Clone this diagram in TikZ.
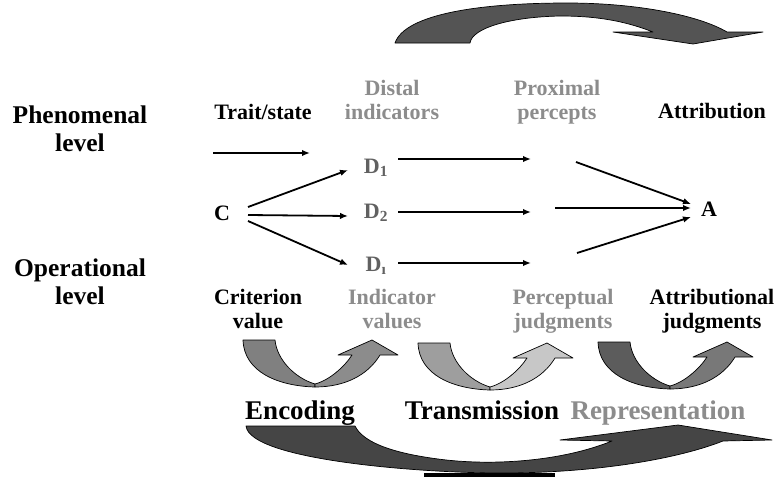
\documentclass[tikz,border=0pt]{standalone}
\usepackage{fontspec}
\setmainfont{Liberation Serif}
\usetikzlibrary{arrows.meta}
\definecolor{txtgray}{gray}{0.55}
\definecolor{dgray}{gray}{0.38}
\definecolor{topfill}{gray}{0.33}
\definecolor{botfill}{gray}{0.27}
\definecolor{encL}{gray}{0.50}
\definecolor{encR}{gray}{0.55}
\definecolor{traL}{gray}{0.62}
\definecolor{traR}{gray}{0.78}
\definecolor{repL}{gray}{0.36}
\definecolor{repR}{gray}{0.47}
\newcommand{\myuarrow}[4]{%
  \begin{scope}[shift={(#1,#2)}]
    \draw[shapeline, fill=#3] (243,340) -- (275,340)
      .. controls (277,360) and (295,378) .. (315,384)
      -- (315,387)
      .. controls (278,386) and (244,372) .. (243,340) -- cycle;
    \draw[shapeline, fill=#4] (315,384)
      .. controls (330,380) and (345,366) .. (352,355)
      -- (338,355) -- (372,340) -- (398,355) -- (380,355)
      .. controls (368,375) and (345,387) .. (315,387) -- cycle;
  \end{scope}}
\begin{document}
\begin{tikzpicture}[x=1pt,y=-1pt,
  lvl/.style={font=\fontsize{25.5}{28}\selectfont\bfseries, align=center, inner sep=0pt, anchor=north},
  lab/.style={font=\fontsize{22}{24}\selectfont\bfseries, align=center, inner sep=0pt, anchor=north},
  glab/.style={lab, text=txtgray},
  proc/.style={font=\fontsize{27}{30}\selectfont\bfseries, inner sep=0pt, anchor=base},
  dnode/.style={font=\fontsize{22}{24}\selectfont\bfseries, text=dgray, inner sep=0pt},
  var/.style={font=\fontsize{22}{24}\selectfont\bfseries, inner sep=0pt},
  conn/.style={line width=1.8pt, -{Latex[length=8pt,width=6.5pt]}},
  shapeline/.style={draw=black, line width=0.7pt, line join=round}]
\useasboundingbox (0,0) rectangle (774,477);
\fill[white] (0,0) rectangle (774,477);

% top curved arrow
\draw[shapeline, fill=topfill] (395,43)
  .. controls (405,14) and (480,3) .. (567,3)
  .. controls (640,3) and (700,16) .. (727,32)
  -- (763,32) -- (693,44) -- (613,32) -- (653,32)
  .. controls (620,19) and (590,16) .. (560,16)
  .. controls (510,17) and (472,28) .. (470,43) -- cycle;

% level labels
\node[lvl] (phen) at (80,106) {Phenomenal\\level};
\node[lvl] (oper) at (80,259) {Operational\\level};

% top labels
\node[lab]  (trait) at (263,104) {Trait/state};
\node[glab] (distal) at (392,80) {Distal\\indicators};
\node[glab] (prox) at (557,80) {Proximal\\percepts};
\node[lab]  (attr) at (712,103) {Attribution};

% bottom labels
\node[lab]  (crit) at (258,289) {Criterion\\value};
\node[glab] (indv) at (392,289) {Indicator\\values};
\node[glab] (perc) at (563,289) {Perceptual\\judgments};
\node[lab]  (attj) at (712,289) {Attributional\\judgments};

% variables
\node[var] (C) at (222,213) {C};
\node[dnode] (D1) at (376,168) {D\textsubscript{1}};
\node[dnode] (D2) at (376,213) {D\textsubscript{2}};
\node[dnode] (Di) at (376,266) {D\textsubscript{ı}};
\node[var] (A) at (709,209) {A};

% coordinates for arrow ends
\coordinate (t0) at (213,153); \coordinate (t1) at (310,153);
\coordinate (c1) at (248,207); \coordinate (c2) at (248,215); \coordinate (c3) at (248,221);
\coordinate (d1e) at (348,170); \coordinate (d2e) at (348,216); \coordinate (die) at (348,265);
\coordinate (p1s) at (398,159); \coordinate (p1e) at (531,159);
\coordinate (p2s) at (398,212); \coordinate (p2e) at (531,212);
\coordinate (p3s) at (398,263); \coordinate (p3e) at (531,263);
\coordinate (a1s) at (576,162); \coordinate (a1e) at (691,204);
\coordinate (a2s) at (555,208); \coordinate (a2e) at (691,208);
\coordinate (a3s) at (577,253); \coordinate (a3e) at (691,217);

\draw[conn] (t0) -- (t1);
\draw[conn] (c1) -- (d1e);
\draw[conn] (c2) -- (d2e);
\draw[conn] (c3) -- (die);
\draw[conn] (p1s) -- (p1e);
\draw[conn] (p2s) -- (p2e);
\draw[conn] (p3s) -- (p3e);
\draw[conn] (a1s) -- (a1e);
\draw[conn] (a2s) -- (a2e);
\draw[conn] (a3s) -- (a3e);

% U arrows
\myuarrow{0}{0}{encL}{encR}
\myuarrow{175}{3}{traL}{traR}
\myuarrow{355}{2}{repL}{repR}

% process labels
\node[proc] (enc) at (300,419) {Encoding};
\node[proc] (tra) at (482,419) {Transmission};
\node[proc, text=txtgray] (rep) at (658,419) {Representation};

% bottom big arrow
\draw[shapeline, fill=botfill] (246,426) -- (355,426)
  .. controls (362,440) and (385,452) .. (438,459)
  .. controls (490,466) and (560,462) .. (612,441)
  -- (560,440) -- (678,425) -- (772,440) -- (723,441)
  .. controls (680,458) and (600,473) .. (501,473)
  .. controls (420,473) and (250,460) .. (246,426) -- cycle;
\draw[line width=4pt] (424,475) -- (555,475);
\end{tikzpicture}
\end{document}
